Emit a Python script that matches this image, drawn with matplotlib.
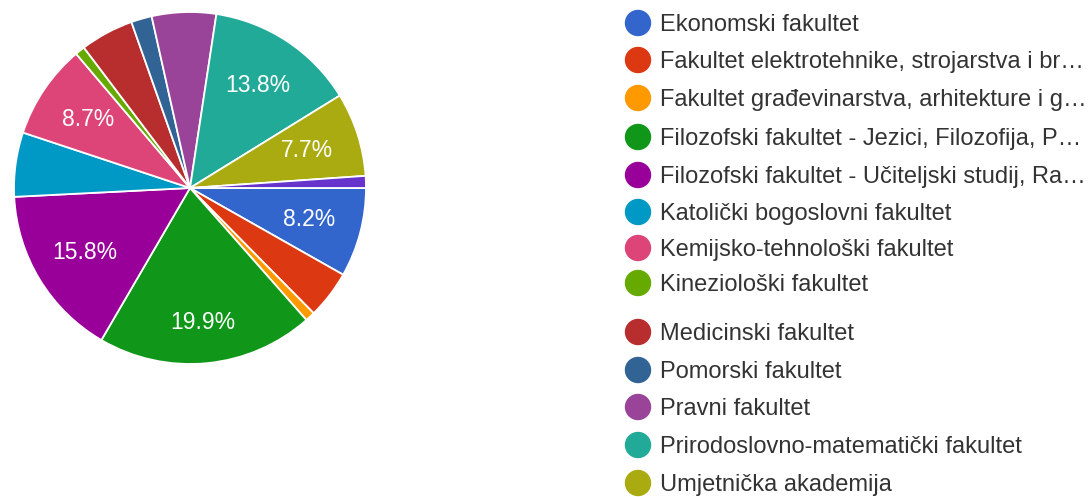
import numpy as np
import matplotlib.pyplot as plt
from matplotlib.patches import Circle

plt.rcParams['font.family'] = ['Liberation Sans', 'DejaVu Sans']

# slices in drawing order (clockwise from 3 o'clock)
faculties = [
    'Ekonomski fakultet',
    'Fakultet elektrotehnike, strojarstva i br…',
    'Fakultet građevinarstva, arhitekture i g…',
    'Filozofski fakultet - Jezici, Filozofija, P…',
    'Filozofski fakultet - Učiteljski studij, Ra…',
    'Katolički bogoslovni fakultet',
    'Kemijsko-tehnološki fakultet',
    'Kineziološki fakultet',
    'Medicinski fakultet',
    'Pomorski fakultet',
    'Pravni fakultet',
    'Prirodoslovno-matematički fakultet',
    'Umjetnička akademija',
    '',  # 14th slice, its legend entry is cut off in the original
]
shares = [8.2, 4.4, 0.9, 19.9, 15.8, 5.9, 8.7, 0.9, 4.9, 1.9, 5.9, 13.8, 7.7, 1.1]
colors = ['#3366cc', '#dc3912', '#ff9900', '#109618', '#990099', '#0099c6',
          '#dd4477', '#66aa00', '#b82e2e', '#316395', '#994499', '#22aa99',
          '#aaaa11', '#6633cc']

W, H = 1088, 497
fig = plt.figure(figsize=(W / 100, H / 100), dpi=100)

cx, cy, r = 190, 188, 176
ax = fig.add_axes([(cx - r) / W, (H - cy - r) / H, 2 * r / W, 2 * r / H])


def pct_label(p):
    return '{:.1f}%'.format(p) if p >= 7 else ''


wedges, texts, autotexts = ax.pie(
    shares, colors=colors, startangle=0, counterclock=False,
    autopct=pct_label, pctdistance=0.7,
    wedgeprops={'edgecolor': 'white', 'linewidth': 1.3},
    textprops={'color': 'white', 'fontsize': 16.5})
ax.set_xlim(-1, 1)
ax.set_ylim(-1, 1)
ax.set_aspect('equal')

# the biggest label sits a bit further out in the original
big = int(np.argmax(shares))
x, y = autotexts[big].get_position()
autotexts[big].set_position((x * 0.77 / 0.7, y * 0.77 / 0.7))

# legend drawn by hand, rows are unevenly spaced in the original
row_y = [23, 60, 98, 137, 175, 212, 248, 283, 332, 370, 407, 445, 483]
for name, col, y in zip(faculties[:13], colors[:13], row_y):
    fig.patches.append(Circle((6.38, (H - y) / 100), 0.125, color=col,
                              transform=fig.dpi_scale_trans))
    fig.text(660 / W, 1 - (y + 8) / H, name, fontsize=17, color='#333333',
             va='baseline', ha='left')

fig.savefig('out.png', dpi=100, facecolor='white')
